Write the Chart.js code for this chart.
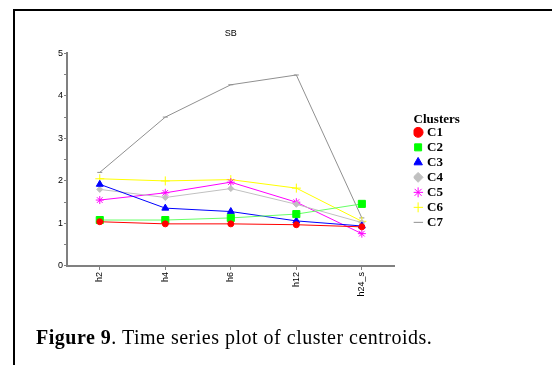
<!DOCTYPE html>
<html>
<head>
<meta charset="utf-8">
<script src="https://cdn.jsdelivr.net/npm/chart.js@4.4.1/dist/chart.umd.min.js"></script>
<style>
  html, body { margin: 0; padding: 0; background: #fff; overflow: hidden; }
  body { width: 552px; height: 365px; position: relative; }
  #frame { position: absolute; left: 13px; top: 9px; width: 600px; height: 400px;
           border-top: 2px solid #000; border-left: 2px solid #000; }
  #chart { position: absolute; left: 0; top: 0; }
  #caption { position: absolute; left: 36px; top: 327px; font: 20px/20px "Liberation Serif", "Times New Roman", serif;
             letter-spacing: 0.5px; color: #000; white-space: nowrap; }
</style>
</head>
<body>
<div id="frame"></div>
<canvas id="chart" width="552" height="365"></canvas>
<div id="caption"><b>Figure 9</b>. Time series plot of cluster centroids.</div>
<script>
const labels = ['h2', 'h4', 'h6', 'h12', 'h24_s'];
const c1 = [1.04, 0.99, 0.99, 0.97, 0.92];
const c2 = [1.08, 1.08, 1.13, 1.22, 1.46];
const c3 = [1.92, 1.36, 1.28, 1.06, 0.94];
const c4 = [1.80, 1.61, 1.82, 1.45, 1.02];
const c5 = [1.55, 1.72, 1.97, 1.50, 0.76];
const c6 = [2.05, 2.00, 2.03, 1.83, 1.05];
const c7 = [2.20, 3.50, 4.26, 4.49, 1.13];

function series(name, data, color, style, radius, lineColor) {
  return {
    label: name, data,
    borderColor: lineColor || color, backgroundColor: color,
    borderWidth: 1,
    pointStyle: style, pointRadius: radius,
    pointBackgroundColor: color, pointBorderColor: color, pointBorderWidth: 1
  };
}

const axisFont = { family: 'Liberation Sans, Arial, sans-serif', size: 9 };

new Chart(document.getElementById('chart'), {
  type: 'line',
  data: {
    labels,
    datasets: [
      series('C1', c1, '#ff0000', 'circle', 3),
      series('C2', c2, '#00ff00', 'rect', 5, '#66ff66'),
      series('C3', c3, '#0000ff', 'triangle', 4),
      series('C4', c4, '#c0c0c0', 'rectRot', 3),
      series('C5', c5, '#ff00ff', 'star', 4),
      series('C6', c6, '#ffff00', 'cross', 4.5),
      series('C7', c7, '#909090', 'line', 2.5)
    ]
  },
  options: {
    responsive: false,
    animation: false,
    devicePixelRatio: 1,
    layout: { padding: { left: 57, right: 73, top: 0, bottom: 66.5 } },
    plugins: {
      title: {
        display: true, text: 'SB', fullSize: false, color: '#000',
        font: { family: 'Liberation Sans, Arial, sans-serif', size: 9, weight: 'normal' },
        padding: { top: 28.6, bottom: 13.9 }
      },
      legend: {
        position: 'right', align: 'start',
        title: {
          display: true, text: 'Clusters', position: 'start', color: '#000',
          font: { family: 'Liberation Serif, Times New Roman, serif', size: 13, weight: 'bold', lineHeight: 0.85 },
          padding: { top: 112.8, bottom: 0 }
        },
        labels: {
          usePointStyle: true, boxWidth: 5, boxHeight: 7, padding: 2, color: '#000',
          font: { family: 'Liberation Serif, Times New Roman, serif', size: 13, weight: 'bold' },
          // pad the labels so the legend box is wide enough for its title
          generateLabels: chart => Chart.defaults.plugins.legend.labels.generateLabels(chart)
            .map(l => ({ ...l, text: l.text + '\u2003\u2003' }))
        }
      },
      tooltip: { enabled: false }
    },
    scales: {
      x: {
        offset: true,
        grid: { drawOnChartArea: false, tickLength: 4, color: '#808080', offset: false },
        border: { color: '#808080', width: 2 },
        ticks: { minRotation: 90, maxRotation: 90, padding: 2, color: '#000', font: axisFont }
      },
      y: {
        min: 0, max: 5,
        grid: { drawOnChartArea: false, tickLength: 3, color: '#808080' },
        border: { color: '#808080', width: 2 },
        ticks: {
          stepSize: 0.5, padding: 1, color: '#000', font: axisFont,
          callback: v => Number.isInteger(v) ? String(v) : ''
        }
      },
      gap: {
        position: 'right', display: true,
        grid: { display: false }, ticks: { display: false }, border: { display: false },
        afterFit: s => { s.width = 19; }
      }
    }
  }
});
</script>
</body>
</html>
